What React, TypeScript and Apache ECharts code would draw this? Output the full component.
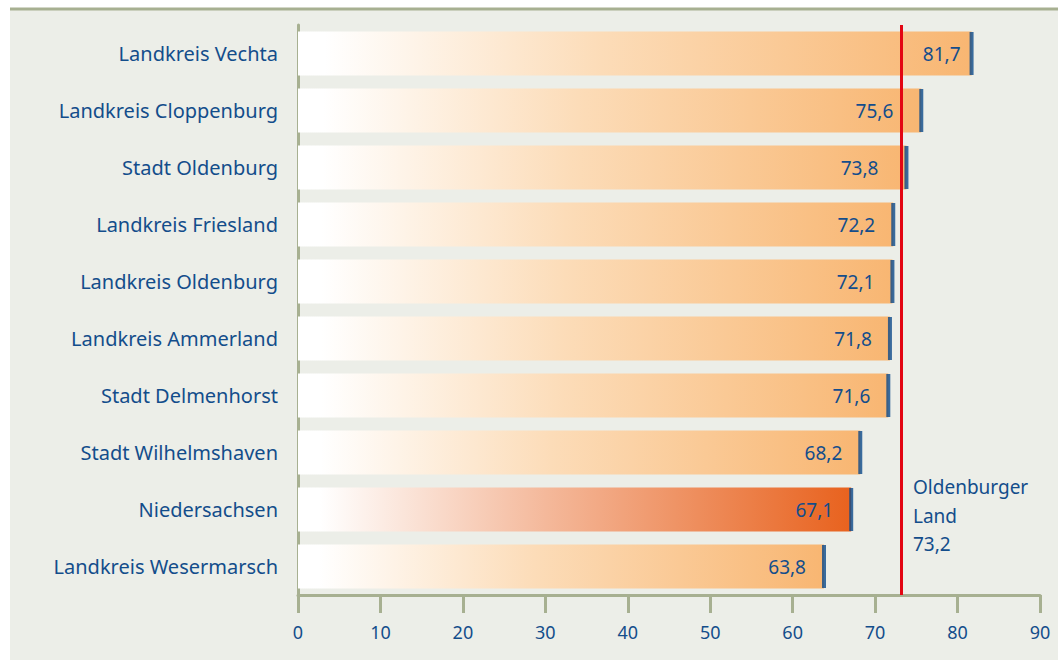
import React, { useEffect, useRef } from "react";
import * as echarts from "echarts";

const categories = [
  "Landkreis Vechta",
  "Landkreis Cloppenburg",
  "Stadt Oldenburg",
  "Landkreis Friesland",
  "Landkreis Oldenburg",
  "Landkreis Ammerland",
  "Stadt Delmenhorst",
  "Stadt Wilhelmshaven",
  "Niedersachsen",
  "Landkreis Wesermarsch",
];
const values = [81.7, 75.6, 73.8, 72.2, 72.1, 71.8, 71.6, 68.2, 67.1, 63.8];
const highlight = "Niedersachsen";
const referenceLabel = ["Oldenburger", "Land"];
const referenceValue = 73.2;
const xTicks = [0, 10, 20, 30, 40, 50, 60, 70, 80, 90];

const fmt = (v: number) => v.toFixed(1).replace(".", ",");

const BLUE = "#134d8b";
const AXIS = "#a7b091";
const FONT = "'Noto Sans', sans-serif";

export default function App() {
  const ref = useRef<HTMLDivElement>(null);
  useEffect(() => {
    document.body.style.margin = "0";
    const chart = echarts.init(ref.current!, null, { renderer: "svg" });
    const grad = (end: string, mid: string) =>
      new echarts.graphic.LinearGradient(0, 0, 1, 0, [
        { offset: 0, color: "#ffffff" },
        { offset: 0.04, color: "#ffffff" },
        { offset: 0.45, color: mid },
        { offset: 1, color: end },
      ]);
    const labelDistance = (i: number, v: number) =>
      i === 0 ? 11 : Math.abs(v - referenceValue) < 3 && v > referenceValue ? 28 : 18;
    chart.setOption({
      animation: false,
      backgroundColor: "#ffffff",
      graphic: [
        {
          type: "rect",
          shape: { x: 10, y: 10, width: 1048, height: 650 },
          style: { fill: "#eceee8" },
          z: -10,
          silent: true,
        },
        {
          type: "line",
          shape: { x1: 10, y1: 9, x2: 1058, y2: 9 },
          style: { stroke: AXIS, lineWidth: 3 },
          silent: true,
        },
        {
          type: "text",
          x: 913,
          y: 473,
          style: {
            text: [...referenceLabel, fmt(referenceValue)].join("\n"),
            fill: BLUE,
            font: `19px ${FONT}`,
            lineHeight: 28.5,
          },
        },
      ],
      grid: { left: 298, right: 18, top: 25, bottom: 65 },
      xAxis: {
        type: "value",
        min: 0,
        max: 90,
        interval: 10,
        axisLine: { show: true, lineStyle: { color: AXIS, width: 3 } },
        axisTick: { show: true, length: 18, lineStyle: { color: AXIS, width: 3 } },
        splitLine: { show: false },
        axisLabel: {
          color: BLUE,
          fontFamily: FONT,
          fontSize: 18,
          margin: 28,
          formatter: (v: number) => (xTicks.includes(v) ? String(v) : ""),
        },
      },
      yAxis: {
        type: "category",
        data: categories,
        inverse: true,
        axisLine: { show: true, lineStyle: { color: AXIS, width: 3 } },
        axisTick: { show: false },
        axisLabel: { color: BLUE, fontFamily: FONT, fontSize: 20, margin: 20 },
      },
      series: [
        {
          type: "bar",
          barWidth: 44,
          data: values.map((v, i) => ({
            value: v,
            itemStyle: {
              color:
                categories[i] === highlight
                  ? grad("#e8621e", "#f4b89a")
                  : grad("#f8b672", "#fcdcb8"),
            },
            label: { distance: labelDistance(i, v) },
          })),
          label: {
            show: true,
            position: "insideRight",
            color: BLUE,
            fontFamily: FONT,
            fontSize: 19,
            formatter: (p: any) => fmt(p.value),
          },
          markLine: {
            silent: true,
            symbol: "none",
            label: { show: false },
            lineStyle: { color: "#e30613", width: 3, type: "solid" },
            data: [{ xAxis: referenceValue }],
          },
        },
        {
          type: "scatter",
          symbol: "rect",
          symbolSize: [4, 43],
          itemStyle: { color: "#0c4a8a" },
          data: values.map((v, i) => [v, categories[i]]),
          z: 5,
        },
      ],
    });
    return () => chart.dispose();
  }, []);
  return <div ref={ref} style={{ width: 1058, height: 660 }} />;
}
